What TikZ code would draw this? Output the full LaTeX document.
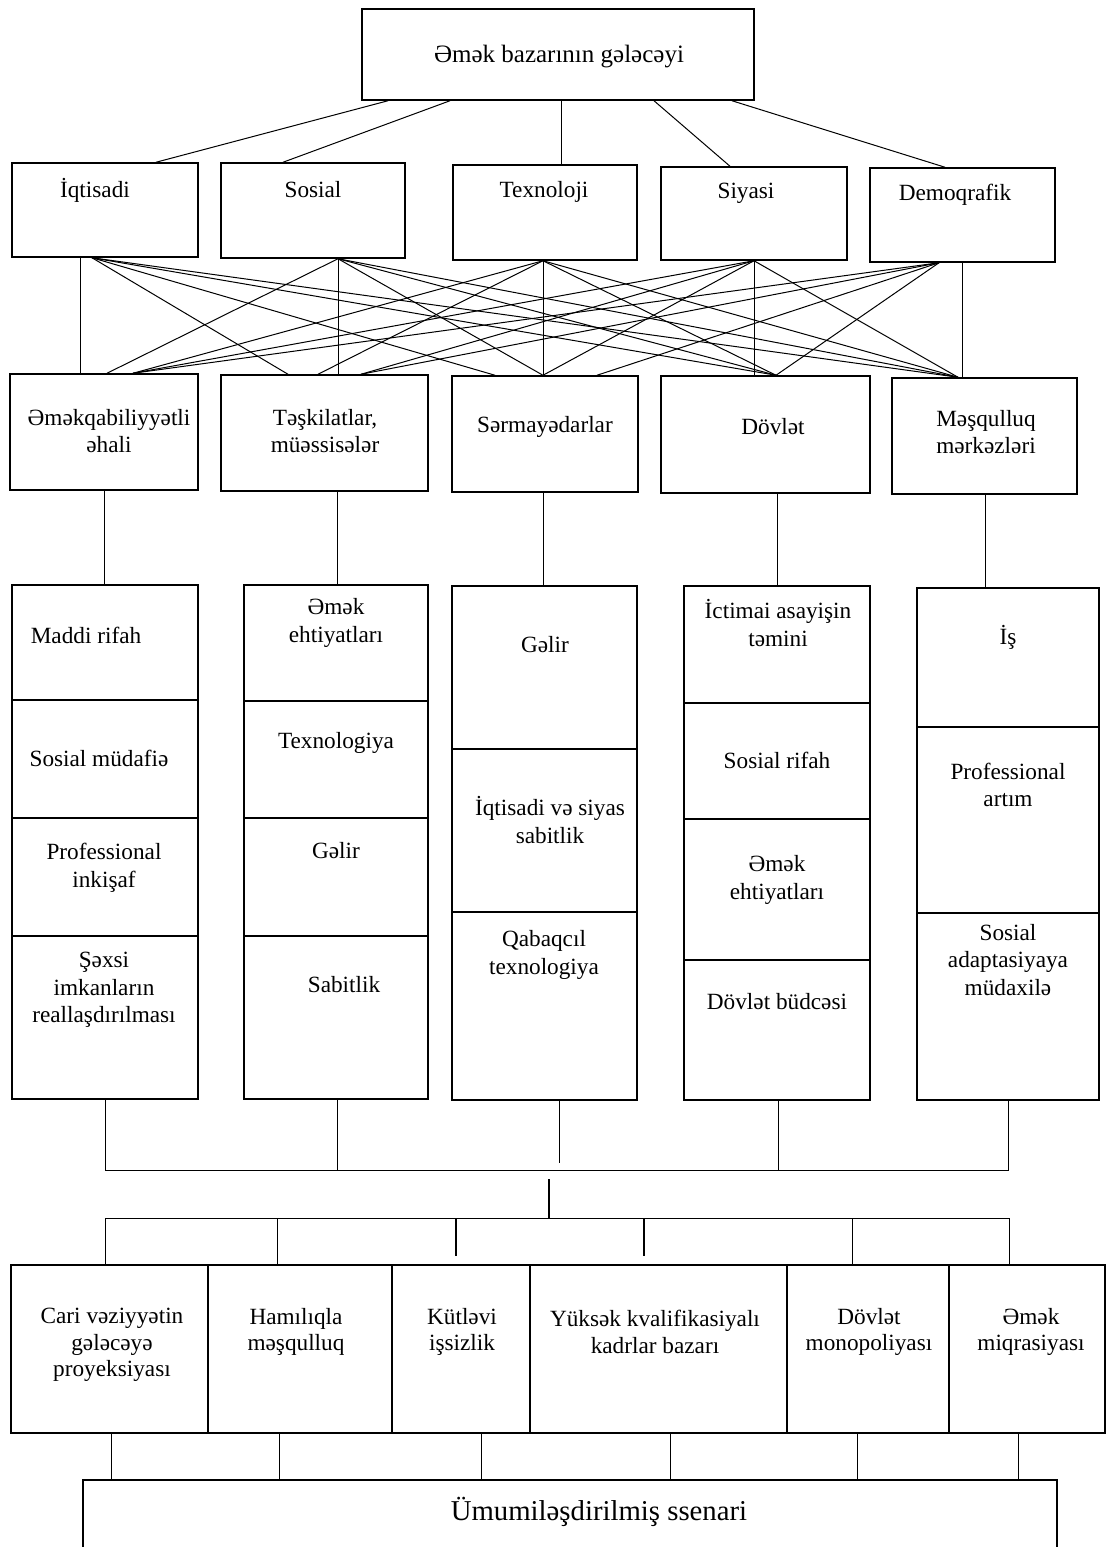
\documentclass[tikz,border=0pt]{standalone}
\usepackage{fontspec}
\setmainfont{Liberation Serif}
\usetikzlibrary{fit}

\begin{document}
\begin{tikzpicture}[x=0.4pt,y=-0.4pt,
    box/.style={draw, line width=0.6pt, inner sep=0pt},
    txt/.style={align=center, inner sep=0pt, font=\fontsize{9.3}{11}\selectfont},
    btxt/.style={align=center, inner sep=0pt, font=\fontsize{9.3}{10.6}\selectfont},
    link/.style={line width=0.4pt},
    bold link/.style={line width=0.9pt}]
  \useasboundingbox (0,0) rectangle (1109,1547);
  \clip (0,0) rectangle (1109,1547);

  % Top box
  \node[box, fit={(362,9) (754,100)}] (top) {};
  \node[txt, font=\fontsize{10}{12}\selectfont] (topT) at (559,57) {Əmək bazarının gələcəyi};

  % Factors
  \node[box, fit={(12,163) (198,257)}] (iq) {};
  \node[box, fit={(221,163) (405,258)}] (so) {};
  \node[box, fit={(453,165) (637,260)}] (te) {};
  \node[box, fit={(661,167) (847,260)}] (si) {};
  \node[box, fit={(870,168) (1055,262)}] (de) {};
  \node[txt] (iqT) at (95,190) {İqtisadi};
  \node[txt] (soT) at (313,190) {Sosial};
  \node[txt] (teT) at (544,192) {Texnoloji};
  \node[txt] (siT) at (746,193) {Siyasi};
  \node[txt] (deT) at (955,195) {Demoqrafik};

  \draw[link] (top.south -| 388,0) -- (iq.north -| 156,0);
  \draw[link] (top.south -| 450,0) -- (so.north -| 283,0);
  \draw[link] (top.south -| 561,0) -- (te.north -| 561,0);
  \draw[link] (top.south -| 654,0) -- (si.north -| 730,0);
  \draw[link] (top.south -| 732,0) -- (de.north -| 945,0);

  % Subjects
  \node[box, fit={(10,374) (198,490)}] (ea) {};
  \node[box, fit={(221,375) (428,491)}] (ts) {};
  \node[box, fit={(452,376) (638,492)}] (sm) {};
  \node[box, fit={(661,376) (870,493)}] (dv) {};
  \node[box, fit={(892,378) (1077,494)}] (mm) {};
  \node[txt] (eaT) at (109,431) {Əməkqabiliyyətli\\əhali};
  \node[txt] (tsT) at (325,431) {Təşkilatlar,\\müəssisələr};
  \node[txt] (smT) at (545,427) {Sərmayədarlar};
  \node[txt] (dvT) at (773,427) {Dövlət};
  \node[txt] (mmT) at (986,432) {Məşqulluq\\mərkəzləri};

  % anchor points of the cross links
  \coordinate (iqF) at (iq.south -| 92,0);
  \coordinate (soF) at (so.south -| 338,0);
  \coordinate (teF) at (te.south -| 543,0);
  \coordinate (siF) at (si.south -| 754,0);
  \coordinate (deF) at (de.south -| 939,0);
  \coordinate (eaA) at (ea.north -| 107,0);
  \coordinate (eaB) at (ea.north -| 133,0);
  \coordinate (tsA) at (ts.north -| 288,0);
  \coordinate (tsB) at (ts.north -| 318,0);
  \coordinate (tsC) at (ts.north -| 361,0);
  \coordinate (smA) at (sm.north -| 495,0);
  \coordinate (smB) at (sm.north -| 543,0);
  \coordinate (smC) at (sm.north -| 597,0);
  \coordinate (dvA) at (dv.north -| 776,0);
  \coordinate (mmA) at (mm.north -| 958,0);

  \foreach \a/\b in {iqF/tsA, iqF/smA, iqF/dvA, iqF/mmA,
                     soF/eaA, soF/smB, soF/dvA, soF/mmA,
                     teF/eaB, teF/tsB, teF/dvA, teF/mmA,
                     siF/eaB, siF/tsC, siF/smB, siF/mmA,
                     deF/eaB, deF/tsC, deF/smC, deF/dvA}
    \draw[link] (\a) -- (\b);
  \draw[link] (iq.south -| 80,0) -- (ea.north -| 80,0);
  \draw[link] (soF) -- (ts.north -| soF);
  \draw[link] (teF) -- (smB);
  \draw[link] (siF) -- (dv.north -| siF);
  \draw[link] (de.south -| 962,0) -- (mm.north -| 962,0);

  % Interests, column by column
  \node[box, fit={(12,585) (198,700)}] (ea1) {};
  \node[box, fit={(12,700) (198,818)}] (ea2) {};
  \node[box, fit={(12,818) (198,936)}] (ea3) {};
  \node[box, fit={(12,936) (198,1099)}] (ea4) {};
  \node[txt] (ea1T) at (86,635) {Maddi rifah};
  \node[txt] (ea2T) at (99,758) {Sosial müdafiə};
  \node[txt] (ea3T) at (104,868) {Professional\\inkişaf};
  \node[txt] (ea4T) at (104,990) {Şəxsi\\imkanların\\reallaşdırılması};

  \node[box, fit={(244,585) (428,701)}] (ts1) {};
  \node[box, fit={(244,701) (428,818)}] (ts2) {};
  \node[box, fit={(244,818) (428,936)}] (ts3) {};
  \node[box, fit={(244,936) (428,1099)}] (ts4) {};
  \node[txt] (ts1T) at (336,623) {Əmək\\ehtiyatları};
  \node[txt] (ts2T) at (336,743) {Texnologiya};
  \node[txt] (ts3T) at (336,851) {Gəlir};
  \node[txt] (ts4T) at (344,985) {Sabitlik};

  \node[box, fit={(452,586) (637,749)}] (sm1) {};
  \node[box, fit={(452,749) (637,912)}] (sm2) {};
  \node[box, fit={(452,912) (637,1100)}] (sm3) {};
  \node[txt] (sm1T) at (545,645) {Gəlir};
  \node[txt] (sm2T) at (550,820) {İqtisadi və siyas\\sabitlik};
  \node[txt] (sm3T) at (544,955) {Qabaqcıl\\texnologiya};

  \node[box, fit={(684,586) (870,703)}] (dv1) {};
  \node[box, fit={(684,703) (870,819)}] (dv2) {};
  \node[box, fit={(684,819) (870,960)}] (dv3) {};
  \node[box, fit={(684,960) (870,1100)}] (dv4) {};
  \node[txt] (dv1T) at (778,623) {İctimai asayişin\\təmini};
  \node[txt] (dv2T) at (777,760) {Sosial rifah};
  \node[txt] (dv3T) at (777,880) {Əmək\\ehtiyatları};
  \node[txt] (dv4T) at (777,1002) {Dövlət büdcəsi};

  \node[box, fit={(917,588) (1099,727)}] (mm1) {};
  \node[box, fit={(917,727) (1099,913)}] (mm2) {};
  \node[box, fit={(917,913) (1099,1100)}] (mm3) {};
  \node[txt] (mm1T) at (1008,637) {İş};
  \node[txt] (mm2T) at (1008,785) {Professional\\artım};
  \node[txt] (mm3T) at (1008,960) {Sosial\\adaptasiyaya\\müdaxilə};

  \draw[link] (ea.south -| 104,0) -- (ea1.north -| 104,0);
  \draw[link] (ts.south -| 337,0) -- (ts1.north -| 337,0);
  \draw[link] (sm.south -| 543,0) -- (sm1.north -| 543,0);
  \draw[link] (dv.south -| 777,0) -- (dv1.north -| 777,0);
  \draw[link] (mm.south -| 985,0) -- (mm1.north -| 985,0);

  % Scenarios
  \node[box, fit={(11,1265) (208,1433)}] (sc1) {};
  \node[box, fit={(208,1265) (392,1433)}] (sc2) {};
  \node[box, fit={(392,1265) (530,1433)}] (sc3) {};
  \node[box, fit={(530,1265) (787,1433)}] (sc4) {};
  \node[box, fit={(787,1265) (949,1433)}] (sc5) {};
  \node[box, fit={(949,1265) (1105,1433)}] (sc6) {};
  \node[btxt] (sc1T) at (112,1345) {Cari vəziyyətin\\gələcəyə\\proyeksiyası};
  \node[btxt] (sc2T) at (296,1332) {Hamılıqla\\məşqulluq};
  \node[btxt] (sc3T) at (462,1332) {Kütləvi\\işsizlik};
  \node[btxt] (sc4T) at (655,1332) {Yüksək kvalifikasiyalı\\kadrlar bazarı};
  \node[btxt] (sc5T) at (869,1332) {Dövlət\\monopoliyası};
  \node[btxt] (sc6T) at (1031,1332) {Əmək\\miqrasiyası};

  \node[box, fit={(83,1480) (1057,1600)}] (gen) {};
  \node[txt, font=\fontsize{11.5}{13}\selectfont] (genT) at (599,1512) {Ümumiləşdirilmiş ssenari};

  % Buses
  \coordinate (busA) at (0,1170);
  \coordinate (busB) at (0,1218);
  \coordinate (hub) at (549,1179);
  \draw[link] (ea4.south) -- (ea4.south |- busA) -- (mm3.south |- busA) -- (mm3.south);
  \draw[link] (ts4.south -| 337,0) -- (busA -| 337,0);
  \draw[link] (dv4.south -| 778,0) -- (busA -| 778,0);
  \draw[link] (sm3.south -| 559,0) -- +(0,62);
  \draw[bold link] (hub) -- (hub |- busB);
  \draw[link] (sc1.north -| 105,0) -- (busB -| 105,0) -- (busB -| 1009,0) -- (sc6.north -| 1009,0);
  \draw[link] (busB -| 277,0) -- (sc2.north -| 277,0);
  \draw[link] (busB -| 852,0) -- (sc5.north -| 852,0);
  \draw[bold link] (busB -| 456,0) -- +(0,38);
  \draw[bold link] (busB -| 644,0) -- +(0,38);
  \foreach \x in {111,279,481,670,857,1018}
    \draw[link] (sc1.south -| \x,0) -- (gen.north -| \x,0);
\end{tikzpicture}
\end{document}
